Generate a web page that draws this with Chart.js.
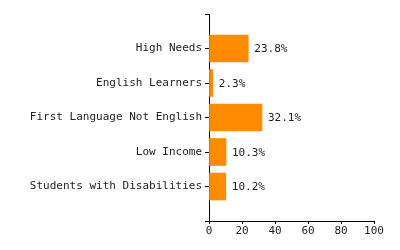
<!DOCTYPE html>
<html>
<head>
<meta charset="utf-8">
<script src="https://cdn.jsdelivr.net/npm/chart.js@4"></script>
<style>
  body { margin: 0; background: #fff; }
  #wrap { width: 400px; height: 250px; }
</style>
</head>
<body>
<div id="wrap"><canvas id="bar-chart" width="400" height="250"></canvas></div>
<script>
// data
const categories = ["High Needs",
    "English Learners",
    "First Language Not English",
    "Low Income",
    "Students with Disabilities"];
const percentages = [23.8, 2.3, 32.1, 10.3, 10.2];
const xTicks = [0, 20, 40, 60, 80, 100];

// empty slot at each end so the categories sit on ticks 1..5
const labels = [''].concat(categories, ['']);
const values = [null].concat(percentages, [null]);

const monoFont = { family: "'DejaVu Sans Mono', monospace", size: 11 };

// draws "23.8%" after each bar
const valueLabels = {
    id: 'valueLabels',
    afterDatasetsDraw(chart) {
        const ctx = chart.ctx;
        const meta = chart.getDatasetMeta(0);
        ctx.save();
        ctx.font = "11px 'DejaVu Sans Mono', monospace";
        ctx.fillStyle = '#222';
        ctx.textAlign = 'left';
        ctx.textBaseline = 'middle';
        meta.data.forEach((bar, i) => {
            const v = values[i];
            if (v === null) return;
            ctx.fillText(v.toFixed(1) + '%', bar.x + 6, bar.y + 1);
        });
        ctx.restore();
    }
};

// config
const config = {
    type: 'bar',
    data: {
        labels,
        datasets: [{
            data: values,
            backgroundColor: '#ff8c00',
            borderWidth: 0,
            barThickness: 27
        }]
    },
    options: {
        indexAxis: 'y',
        responsive: false,
        animation: false,
        layout: {
            padding: { top: 14, right: 26, left: 0, bottom: 0 }
        },
        plugins: {
            legend: { display: false },
            tooltip: { enabled: false }
        },
        scales: {
            x: {
                min: 0,
                max: 100,
                afterBuildTicks: (scale) => {
                    scale.ticks = xTicks.map(v => ({ value: v }));
                },
                afterFit: (scale) => { scale.height = 29; },
                border: { display: true, color: '#000', width: 1 },
                grid: {
                    drawOnChartArea: false,
                    drawTicks: true,
                    tickLength: 3,
                    color: '#000'
                },
                ticks: {
                    color: '#222',
                    font: monoFont,
                    padding: 1,
                    maxRotation: 0
                }
            },
            y: {
                offset: false,
                afterFit: (scale) => { scale.width = 209; },
                border: { display: true, color: '#000', width: 1 },
                grid: {
                    offset: false,
                    drawOnChartArea: false,
                    drawTicks: true,
                    tickLength: 4,
                    color: '#000'
                },
                ticks: {
                    color: '#222',
                    font: monoFont,
                    padding: 3,
                    autoSkip: false
                }
            }
        }
    },
    plugins: [valueLabels]
};

// render
const myChart = new Chart(
    document.getElementById('bar-chart'),
    config
);
</script>
</body>
</html>
